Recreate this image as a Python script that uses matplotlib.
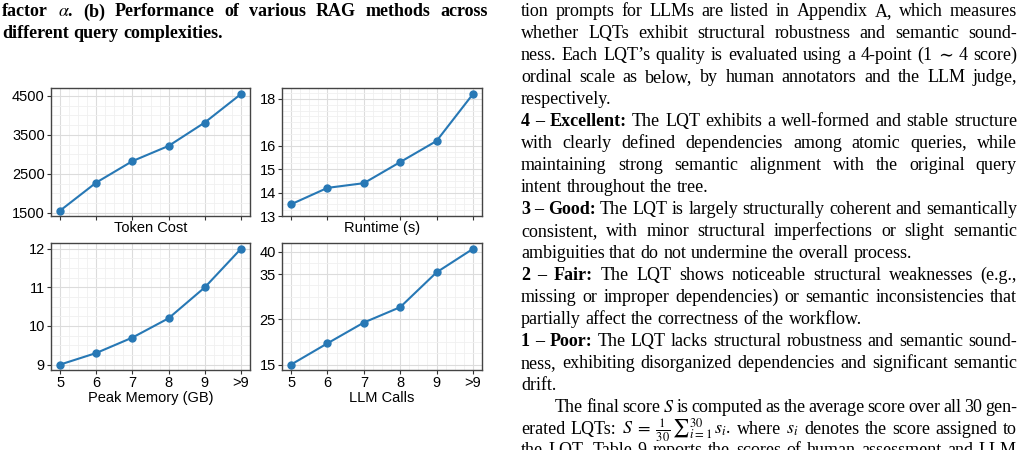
import matplotlib
matplotlib.use("Agg")
import matplotlib.pyplot as plt
from matplotlib.ticker import AutoMinorLocator

# data
levels = ["5", "6", "7", "8", "9", ">9"]
token_cost = [1560, 2280, 2830, 3220, 3820, 4550]
runtime = [13.5, 14.2, 14.4, 15.3, 16.2, 18.2]
peak_memory = [9.0, 9.3, 9.7, 10.2, 11.0, 12.0]
llm_calls = [15.0, 19.7, 24.3, 27.7, 35.4, 40.6]

token_ticks = [1500, 2500, 3500, 4500]
runtime_ticks = [13, 14, 15, 16, 18]
memory_ticks = [9, 10, 11, 12]
llm_ticks = [15, 25, 35, 40]

caption_lines = [
    ([("factor $\\alpha$. (b) Performance of various RAG methods across", "bold")], True),
    ([("different query complexities.", "bold")], False),
]

body_lines = [
    ([("tion prompts for LLMs are listed in Appendix A, which measures", "normal")], True),
    ([("whether LQTs exhibit structural robustness and semantic sound-", "normal")], True),
    ([("ness. Each LQT\u2019s quality is evaluated using a 4-point (1 \u223c 4 score)", "normal")], True),
    ([("ordinal scale as below, by human annotators and the LLM judge,", "normal")], True),
    ([("respectively.", "normal")], False),
    ([("4 \u2013 Excellent:", "bold"), ("The LQT exhibits a well-formed and stable structure", "normal")], True),
    ([("with clearly defined dependencies among atomic queries, while", "normal")], True),
    ([("maintaining strong semantic alignment with the original query", "normal")], True),
    ([("intent throughout the tree.", "normal")], False),
    ([("3 \u2013 Good:", "bold"), ("The LQT is largely structurally coherent and semantically", "normal")], True),
    ([("consistent, with minor structural imperfections or slight semantic", "normal")], True),
    ([("ambiguities that do not undermine the overall process.", "normal")], False),
    ([("2 \u2013 Fair:", "bold"), ("The LQT shows noticeable structural weaknesses (e.g.,", "normal")], True),
    ([("missing or improper dependencies) or semantic inconsistencies that", "normal")], True),
    ([("partially affect the correctness of the workflow.", "normal")], False),
    ([("1 \u2013 Poor:", "bold"), ("The LQT lacks structural robustness and semantic sound-", "normal")], True),
    ([("ness, exhibiting disorganized dependencies and significant semantic", "normal")], True),
    ([("drift.", "normal")], False),
    ([("The final score $S$ is computed as the average score over all 30 gen-", "normal")], True),
    ([("erated LQTs: $S\\;=\\;\\frac{1}{30}\\,{\\sum}_{i=1}^{30}\\,s_i$. where $s_i$ denotes the score assigned to", "normal")], True),
    ([("the LQT. Table 9 reports the scores of human assessment and LLM", "normal")], True),
]

W, H = 1024, 450
plt.rcParams["mathtext.fontset"] = "stix"
fig = plt.figure(figsize=(W / 100, H / 100), dpi=100)
renderer = fig.canvas.get_renderer()
serif = ["Liberation Serif", "DejaVu Serif"]
text_size = 13
line_step = 21.95


def put_line(y, segs, x0, x1, justify):
    words = []
    for text, weight in segs:
        for w in text.split(" "):
            t = fig.text(0, 0, w, family=serif, fontsize=text_size, weight=weight)
            words.append((t, t.get_window_extent(renderer).width))
    total = sum(w for _, w in words)
    space = text_size * 100 / 72 * 0.25
    if justify and len(words) > 1:
        gap = (x1 - x0 - total) / (len(words) - 1)
    else:
        gap = space
    x = x0
    for t, w in words:
        t.set_position((x / W, 1 - y / H))
        t.set_va("baseline")
        x += w + gap


for i, (segs, just) in enumerate(caption_lines):
    put_line(16.5 + i * line_step, segs, 2, 488, just)

for i, (segs, just) in enumerate(body_lines):
    x0 = 555 if i == 18 else 521
    put_line(16.5 + i * line_step, segs, x0, 1017, just)

# the four small panels, positions in pixels (left, top, right, bottom)
panels = [
    ((51, 88, 250, 216), token_cost, token_ticks, "Token Cost", (1423, 4705), False),
    ((282, 88, 482, 216), runtime, runtime_ticks, "Runtime (s)", (13, 18.46), False),
    ((51, 243, 250, 370), peak_memory, memory_ticks, "Peak Memory (GB)", (8.86, 12.15), True),
    ((282, 243, 482, 370), llm_calls, llm_ticks, "LLM Calls", (13.8, 41.9), True),
]

sans = "Liberation Sans"
fs = 10.5
x = list(range(len(levels)))
for (l, t, r, b), vals, ticks, label, ylim, show_x in panels:
    ax = fig.add_axes([l / W, 1 - b / H, (r - l) / W, (b - t) / H])
    ax.plot(x, vals, "-o", color="#2778b5", lw=1.5, ms=5)
    ax.set_xlim(-0.25, 5.25)
    ax.set_ylim(*ylim)
    ax.set_xticks(x)
    ax.set_xticklabels(levels, family=sans, fontsize=fs)
    ax.set_yticks(ticks)
    ax.set_yticklabels([str(v) for v in ticks], family=sans, fontsize=fs)
    ax.xaxis.set_minor_locator(AutoMinorLocator(4))
    ax.yaxis.set_minor_locator(AutoMinorLocator(4))
    ax.grid(True, which="major", color="#dcdcdc", lw=0.8)
    ax.grid(True, which="minor", color="#f0f0f0", lw=0.6)
    ax.set_axisbelow(True)
    ax.tick_params(which="major", length=3, width=0.8, color="#333333", pad=1.5)
    ax.tick_params(which="minor", length=0)
    if not show_x:
        ax.tick_params(axis="x", labelbottom=False)
    ax.set_xlabel(label, family=sans, fontsize=fs, labelpad=0.5)
    for s in ax.spines.values():
        s.set_color("#444444")
        s.set_linewidth(1.0)

fig.savefig("out.png", dpi=100)
